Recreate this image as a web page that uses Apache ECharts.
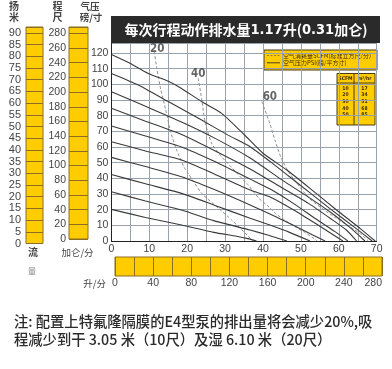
<!DOCTYPE html>
<html><head><meta charset="utf-8">
<script src="https://cdn.jsdelivr.net/npm/echarts@6/dist/echarts.min.js"></script>
<style>html,body{margin:0;padding:0;background:#fff}#c{width:392px;height:369px}</style>
</head><body><div id="c"></div>
<script>
// ---- tick labels ----
const gpmTicks = [0,10,20,30,40,50,60,70];
const psiTicks = [0,10,20,30,40,50,60,70,80,90,100,110,120];
const meterTicks = [0,5,10,15,20,25,30,35,40,45,50,55,60,65,70,75,80,85,90];
const feetTicks = [0,20,40,60,80,100,120,140,160,180,200,220,240,260,280];
const lpmTicks = [0,40,80,120,160,200,240,280];

// ---- air pressure curves (solid): [flow gpm, head psi] ----
const curveA = [[0,119],[4.9,113.4],[9.7,107],[15,102],[18.5,97.4],[23.8,89],[29.1,81.5],[35,68],[40,56],[46.3,45.3],[52.4,33.6],[59.4,19.8],[65.6,8.1],[69.6,0]];
const curveB = [[0,107],[7.1,99.6],[15,89],[23.8,77.2],[30.8,67.6],[36.6,60.2],[42,50.5],[47,41],[52,31.5],[58,20],[64,9],[68.8,0]];
const curveC = [[0,95.3],[9,86],[18.5,76],[27,66],[36.6,53],[45,39],[52,28],[58,18],[63,8.5],[66.9,0]];
const curveD = [[0,84.7],[9,76.5],[18.5,68],[27,58],[36.6,46],[45,34],[52,24],[58,14],[62,7],[64.7,0]];
const curveE = [[0,73.4],[9,67],[18.5,60],[27,51],[36.6,39.5],[42,33],[48,24],[54,14],[59,6],[62.4,0]];
const curveF = [[0,63.4],[9,57.5],[18.5,51.7],[27,43],[36.6,32.5],[42,28],[48,20],[54,11],[58.5,4],[61.1,0]];
const curveG = [[0,53.4],[9,47.5],[18.5,41],[27,33],[36.6,23],[42,17],[48,10],[53,4],[56.4,0]];
const curveH = [[0,42.5],[9,36.5],[18.5,30.4],[27,23],[36.6,14.5],[42,10],[47,5.5],[52.4,0]];
const curveI = [[0,31.5],[9,25.5],[18.5,19.8],[27,13],[36.6,7],[41,4],[46.3,0]];
const curveJ = [[0,20.2],[9,15],[18.5,10.2],[27,5.5],[33,3],[36,1.5],[38.3,0]];

// ---- air consumption curves (dashed) ----
const scfm20 = [[11.3,121],[12,110],[13,97],[14.3,84],[15.6,70],[17.2,58],[19.2,47],[20.3,43],[23.8,30.5],[28.2,21],[31.7,13.5],[35.3,5],[37.4,0]];
const scfm40 = [[22.9,104],[23.8,91],[24.7,76],[26.5,62],[29,54],[31.7,47],[34,41],[36,36],[39,27],[41,23],[43.6,17],[46,13],[48.9,8.5],[51,5.5],[53.5,1.5],[54.3,0]];
const scfm60 = [[39.7,89],[41.8,75],[43.2,64],[44.8,53],[46.5,45],[48.9,37],[52.3,27],[55.5,21],[59,15],[63,9],[66,4],[67.8,0]];
const scfmNames = ['20','40','60'];

// ---- conversion table ----
const tableScfm = ['10','20','30','40','50'];
const tableM3hr = ['17','34','51','68','85'];

const solidName = '空气压力PSI(磅/平方寸)';
const dashName = '空气消耗量SCFM(标准立方尺/分)';
const solidCurves = [curveA,curveB,curveC,curveD,curveE,curveF,curveG,curveH,curveI,curveJ];
const dashCurves = [scfm20,scfm40,scfm60];
const labelOffsets = [[3,4],[0,2],[8,2]];

const YELLOW = '#FFCC00', BROWN = '#8a6e24', GRID = '#98a2ac', TXT = '#444';
const numFont = 'Liberation Sans';
const cjk = 'Noto Sans CJK SC';
const DASH = [3,2];

function fmt(list){ return v => list.includes(v) ? String(v) : ''; }

const series = [];
dashCurves.forEach((d)=>{
  series.push({type:'line', name:dashName, xAxisIndex:0, yAxisIndex:0, data:d, symbol:'none',
    smooth:0.2, silent:true, z:2,
    lineStyle:{color:'#8e8e8e', width:1, type:DASH}});
});
solidCurves.forEach((d)=>{
  series.push({type:'line', name:solidName, xAxisIndex:0, yAxisIndex:0, data:d, symbol:'none',
    smooth:0.2, silent:true, z:3,
    lineStyle:{color:'#3a3a3a', width:1.1}});
});
series.push({type:'scatter', name:'labels', xAxisIndex:0, yAxisIndex:0, silent:true, symbolSize:1,
  itemStyle:{color:'rgba(0,0,0,0)'},
  data: dashCurves.map((d,i)=>({value:[d[0][0], d[0][1], scfmNames[i]],
     label:{show:true, position:'top', distance:0, offset:labelOffsets[i], formatter:p=>p.value[2],
       fontFamily:'DejaVu Sans Condensed', fontWeight:'bold', fontSize:11.5, color:'#3d3d3d'}}))
});

// conversion table graphic
const tbl = [];
const tx = 337, ty = 73.5, tw = 38, th = 51.5, hdr = 9.5, colX = 354;
const tFont = 'bold 5px "DejaVu Sans Condensed"';
tbl.push({type:'rect', shape:{x:tx,y:ty,width:tw,height:th}, style:{fill:YELLOW, stroke:'#4a3c10', lineWidth:1}});
tbl.push({type:'line', shape:{x1:colX,y1:ty,x2:colX,y2:ty+th}, style:{stroke:'#4a3c10', lineWidth:1}});
tbl.push({type:'line', shape:{x1:tx,y1:ty+hdr,x2:tx+tw,y2:ty+hdr}, style:{stroke:'#4a3c10', lineWidth:1}});
tbl.push({type:'text', x:(tx+colX)/2, y:ty+hdr/2, style:{text:'SCFM', fill:'#3a2e08', font:tFont, align:'center', verticalAlign:'middle'}});
tbl.push({type:'text', x:(colX+tx+tw)/2, y:ty+hdr/2, style:{text:'m³/hr', fill:'#3a2e08', font:tFont, align:'center', verticalAlign:'middle'}});
tableScfm.forEach((s,i)=>{
  const yy = ty+hdr+5.5+i*6.6;
  tbl.push({type:'text', x:(tx+colX)/2, y:yy, style:{text:s, fill:'#3a2e08', font:tFont, align:'center', verticalAlign:'middle'}});
  tbl.push({type:'text', x:(colX+tx+tw)/2, y:yy, style:{text:tableM3hr[i], fill:'#3a2e08', font:tFont, align:'center', verticalAlign:'middle'}});
});

// legend box graphic
const lg = [];
lg.push({type:'rect', shape:{x:264,y:50,width:113,height:20}, style:{fill:YELLOW, stroke:'#4a3c10', lineWidth:1}});
lg.push({type:'line', shape:{x1:267,y1:55.5,x2:280,y2:55.5}, style:{stroke:'#7a6a30', lineWidth:0.8, lineDash:[2,1.5]}});
lg.push({type:'line', shape:{x1:267,y1:62.8,x2:280,y2:62.8}, style:{stroke:'#333', lineWidth:0.9}});
lg.push({type:'text', x:283, y:55.5, style:{text:dashName, fill:'#3a2e08', font:'6px "'+cjk+'"', align:'left', verticalAlign:'middle'}});
lg.push({type:'text', x:283, y:62.8, style:{text:solidName, fill:'#3a2e08', font:'6px "'+cjk+'"', align:'left', verticalAlign:'middle'}});

function T(x,y,text,size,opt){
  opt = opt||{};
  return {type:'text', x, y, z:10, style:{text, fill:opt.fill||TXT,
    font:(opt.weight||'normal')+' '+size+'px "'+(opt.family||cjk)+'"', align:opt.align||'center', verticalAlign:'middle'}};
}

const graphics = [
  {type:'rect', z:5, shape:{x:111,y:16,width:269,height:27}, style:{fill:'#2a2a2a'}},
  {type:'text', z:10, x:246, y:30, style:{
     text:'{c|每次行程动作排水量}{n|1.17}{c|升(}{n|0.31}{c|加仑)}',
     align:'center', verticalAlign:'middle',
     rich:{c:{fill:'#fff', fontSize:14, fontFamily:cjk, fontWeight:'bold'},
           n:{fill:'#fff', fontSize:14.5, fontFamily:'DejaVu Sans Condensed', fontWeight:'bold'}}}},
  T(14,6.5,'扬',10,{weight:'bold'}), T(14,17,'米',10,{weight:'bold'}),
  T(57.5,6.5,'程',10,{weight:'bold'}), T(57.5,17,'尺',10,{weight:'bold'}),
  T(90,6.5,'气压',9.5,{weight:'bold'}), T(91,17,'磅/寸',9.5,{weight:'bold'}),
  T(33,252,'流',10,{weight:'bold'}), T(32,270.5,'量',8,{fill:'#888'}),
  T(77.5,252.5,'加仑/分',9.5),
  T(106,283,'升/分',9.5,{align:'right'}),
  T(14,321.7,'注: 配置上特氟隆隔膜的E4型泵的排出量将会减少20%,吸',14.3,{align:'left', fill:'#2a2a2a', weight:'500'}),
  T(14,339.3,'程减少到干 3.05 米（10尺）及湿 6.10 米（20尺）',14.3,{align:'left', fill:'#2a2a2a', weight:'500'}),
  {type:'group', z:10, children:lg},
  {type:'group', z:10, children:tbl}
];

const chart = echarts.init(document.getElementById('c'), null, {renderer:'canvas'});
chart.setOption({
  animation:false,
  backgroundColor:'#fff',
  grid:[
    {left:111.4, top:43, width:265.3, height:198},
    {left:26, top:27, width:17, height:216.5, show:true, backgroundColor:YELLOW, borderColor:BROWN, borderWidth:1},
    {left:69, top:27, width:19, height:212, show:true, backgroundColor:YELLOW, borderColor:BROWN, borderWidth:1},
    {left:115, top:257, width:267, height:19, show:true, backgroundColor:YELLOW, borderColor:BROWN, borderWidth:1}
  ],
  xAxis:[
    {type:'value', gridIndex:0, min:0, max:70, interval:5,
      axisLine:{show:true, lineStyle:{color:'#222', width:1}}, axisTick:{show:false},
      splitLine:{show:true, lineStyle:{color:GRID, width:1}},
      axisLabel:{formatter:fmt(gpmTicks), margin:3, fontSize:10.5, color:TXT, fontFamily:numFont, showMaxLabel:true}},
    {type:'value', gridIndex:1, min:0, max:1, show:false},
    {type:'value', gridIndex:2, min:0, max:1, show:false},
    {type:'value', gridIndex:3, min:0, max:280, interval:20,
      axisLine:{show:false}, axisTick:{show:false},
      splitLine:{show:true, lineStyle:{color:BROWN, width:1}},
      axisLabel:{formatter:fmt(lpmTicks), margin:2, fontSize:10.5, color:TXT, fontFamily:numFont, alignMaxLabel:'right'}}
  ],
  yAxis:[
    {type:'value', gridIndex:0, min:0, max:126.4, interval:10,
      axisLine:{show:true, lineStyle:{color:'#222', width:1}}, axisTick:{show:false},
      splitLine:{show:true, lineStyle:{color:GRID, width:1}},
      axisLabel:{formatter:fmt(psiTicks), margin:3, fontSize:10.5, color:TXT, fontFamily:numFont}},
    {type:'value', gridIndex:1, min:0, max:92.5, interval:5,
      axisLine:{show:false}, axisTick:{show:false},
      splitLine:{show:true, lineStyle:{color:BROWN, width:1}},
      axisLabel:{formatter:fmt(meterTicks), margin:5, fontSize:11, color:TXT, fontFamily:numFont}},
    {type:'value', gridIndex:2, min:0, max:288.6, interval:20,
      axisLine:{show:false}, axisTick:{show:false},
      splitLine:{show:true, lineStyle:{color:BROWN, width:1}},
      axisLabel:{formatter:fmt(feetTicks), margin:3, fontSize:10.5, color:TXT, fontFamily:numFont}},
    {type:'value', gridIndex:3, min:0, max:1, show:false}
  ],
  series: series,
  graphic: graphics
});
</script>
</body></html>
